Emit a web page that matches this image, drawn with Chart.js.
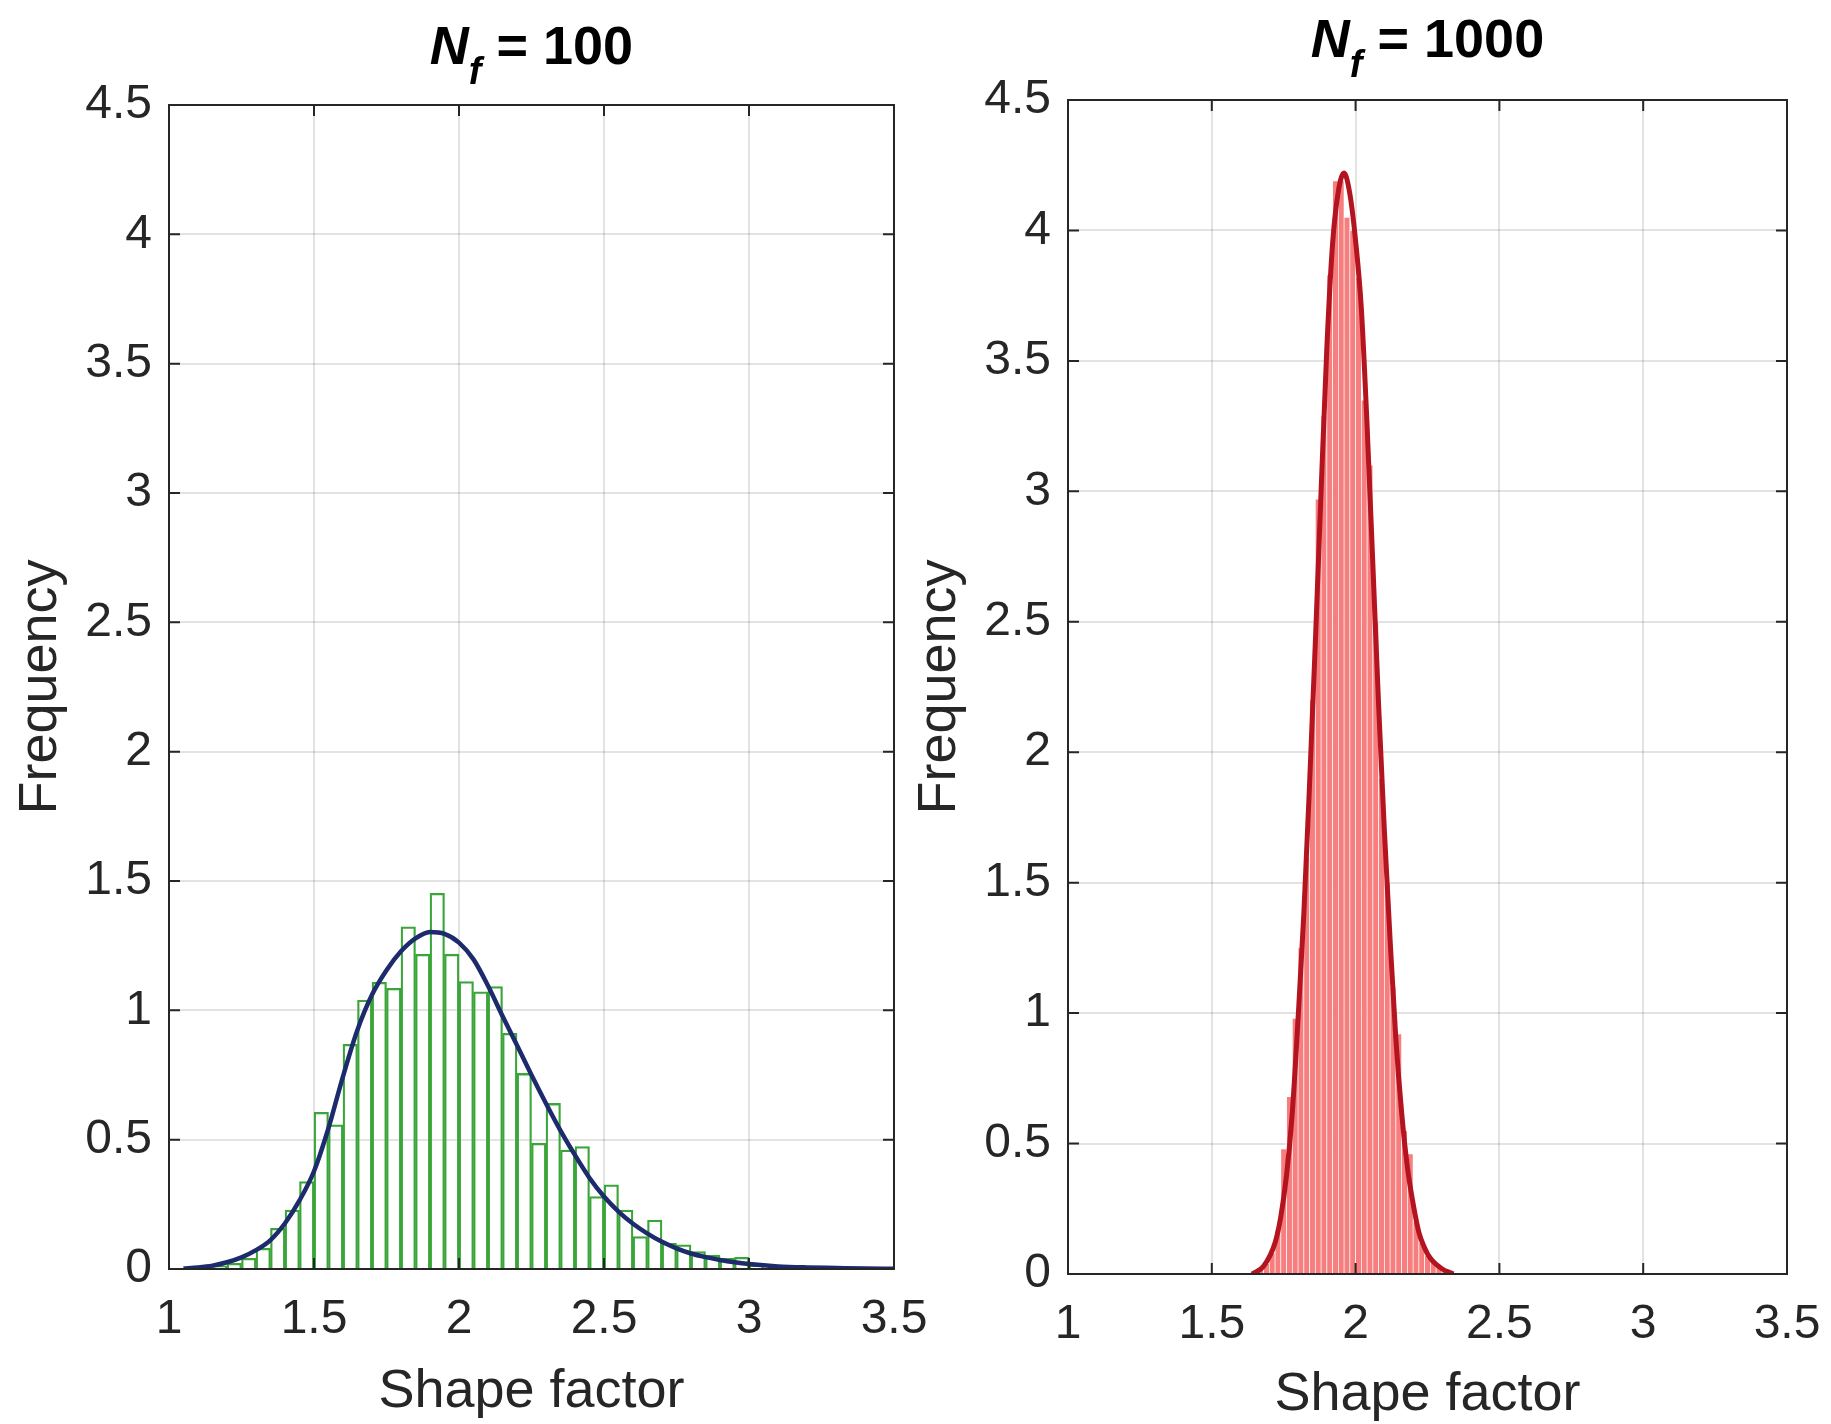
<!DOCTYPE html>
<html>
<head>
<meta charset="utf-8">
<script src="https://cdn.jsdelivr.net/npm/chart.js@4.4.1/dist/chart.umd.min.js"></script>
<style>
  body { margin: 0; background: #fff; }
  #wrap { position: relative; width: 1831px; height: 1424px; }
  canvas { position: absolute; top: 0; }
  #leftChart { left: 0; }
  #rightChart { left: 905px; }
</style>
</head>
<body>
<div id="wrap">
  <canvas id="leftChart" width="940" height="1424"></canvas>
  <canvas id="rightChart" width="926" height="1424"></canvas>
</div>
<script>
const xTicks = [1, 1.5, 2, 2.5, 3, 3.5];
const yTicks = [0, 0.5, 1, 1.5, 2, 2.5, 3, 3.5, 4, 4.5];

// Nf = 100 : histogram (bin width 0.05) and fitted curve
const binsNf100 = [1.125, 1.175, 1.225, 1.275, 1.325, 1.375, 1.425, 1.475, 1.525, 1.575,
  1.625, 1.675, 1.725, 1.775, 1.825, 1.875, 1.925, 1.975, 2.025, 2.075,
  2.125, 2.175, 2.225, 2.275, 2.325, 2.375, 2.425, 2.475, 2.525, 2.575,
  2.625, 2.675, 2.725, 2.775, 2.825, 2.875, 2.925, 2.975, 3.025];
const freqNf100 = [0.005, 0.012, 0.022, 0.041, 0.08, 0.157, 0.228, 0.338, 0.606, 0.557,
  0.869, 1.04, 1.108, 1.085, 1.323, 1.217, 1.452, 1.217, 1.111, 1.072,
  1.092, 0.911, 0.756, 0.486, 0.64, 0.46, 0.473, 0.28, 0.325, 0.228,
  0.125, 0.189, 0.099, 0.093, 0.067, 0.054, 0.041, 0.045, 0.015];
const fitXNf100 = [1.05, 1.1, 1.15, 1.2, 1.25, 1.3, 1.35, 1.4, 1.45, 1.5,
  1.55, 1.6, 1.65, 1.7, 1.75, 1.8, 1.85, 1.9, 1.95, 2.0,
  2.05, 2.1, 2.15, 2.2, 2.25, 2.3, 2.35, 2.4, 2.45, 2.5,
  2.55, 2.6, 2.65, 2.7, 2.75, 2.8, 2.85, 2.9, 2.95, 3.0,
  3.1, 3.2, 3.3, 3.4, 3.5];
const fitYNf100 = [0.002, 0.006, 0.013, 0.026, 0.045, 0.073, 0.112, 0.177, 0.265, 0.378,
  0.545, 0.745, 0.925, 1.06, 1.155, 1.228, 1.278, 1.303, 1.296, 1.262,
  1.197, 1.095, 0.978, 0.865, 0.75, 0.64, 0.535, 0.44, 0.352, 0.28,
  0.222, 0.175, 0.137, 0.105, 0.08, 0.06, 0.046, 0.035, 0.026, 0.019,
  0.01, 0.006, 0.004, 0.002, 0.001];

// Nf = 1000 : histogram (bin width 0.02) and fitted curve
const binsNf1000 = [1.65, 1.67, 1.69, 1.71, 1.73, 1.75, 1.77, 1.79, 1.81, 1.83,
  1.85, 1.87, 1.89, 1.91, 1.93, 1.95, 1.97, 1.99, 2.01, 2.03,
  2.05, 2.07, 2.09, 2.11, 2.13, 2.15, 2.17, 2.19, 2.21, 2.23,
  2.25, 2.27, 2.29, 2.31, 2.33];
const freqNf1000 = [0.01, 0.02, 0.04, 0.08, 0.17, 0.48, 0.68, 0.98, 1.25, 1.6,
  2.2, 2.97, 3.29, 3.83, 4.19, 4.19, 4.05, 4.0, 3.82, 3.35,
  3.1, 2.5, 1.9, 1.5, 1.1, 0.92, 0.55, 0.46, 0.2, 0.12,
  0.07, 0.05, 0.03, 0.02, 0.01];
const fitXNf1000 = [1.64, 1.68, 1.72, 1.74, 1.76, 1.78, 1.8, 1.82, 1.84, 1.86,
  1.88, 1.9, 1.92, 1.94, 1.96, 1.98, 2.0, 2.02, 2.04, 2.06,
  2.08, 2.1, 2.12, 2.14, 2.16, 2.18, 2.2, 2.22, 2.24, 2.26,
  2.3, 2.34];
const fitYNf1000 = [0.0, 0.03, 0.12, 0.22, 0.38, 0.62, 0.98, 1.38, 1.88, 2.42,
  3.0, 3.55, 3.95, 4.15, 4.22, 4.14, 3.96, 3.7, 3.25, 2.72,
  2.18, 1.7, 1.28, 0.9, 0.62, 0.41, 0.27, 0.16, 0.1, 0.06,
  0.02, 0.0];

const FONT = "Liberation Sans, Arial, Helvetica, sans-serif";
const TEXT = "#262626";
const GRID = "rgba(0,0,0,0.11)";

// axis box, inward tick marks and the N_f title
const framePlugin = {
  id: "frame",
  afterDraw(chart) {
    const ctx = chart.ctx;
    const a = chart.chartArea;
    const sx = chart.scales.x;
    const sy = chart.scales.y;
    const tickLen = 11;

    ctx.save();
    ctx.strokeStyle = TEXT;
    ctx.lineWidth = 2;
    ctx.strokeRect(a.left, a.top, a.right - a.left, a.bottom - a.top);

    ctx.beginPath();
    sx.ticks.forEach(function (t) {
      var px = sx.getPixelForValue(t.value);
      ctx.moveTo(px, a.bottom);
      ctx.lineTo(px, a.bottom - tickLen);
      ctx.moveTo(px, a.top);
      ctx.lineTo(px, a.top + tickLen);
    });
    sy.ticks.forEach(function (t) {
      var py = sy.getPixelForValue(t.value);
      ctx.moveTo(a.left, py);
      ctx.lineTo(a.left + tickLen, py);
      ctx.moveTo(a.right, py);
      ctx.lineTo(a.right - tickLen, py);
    });
    ctx.stroke();

    var opts = chart.options.plugins.frame;
    var parts = [
      { text: "N", font: "italic bold 54px " + FONT, dy: 0 },
      { text: "f", font: "italic bold 38px " + FONT, dy: 20 },
      { text: " = " + opts.nf, font: "bold 54px " + FONT, dy: 0 },
    ];
    var total = 0;
    parts.forEach(function (p) {
      ctx.font = p.font;
      p.w = ctx.measureText(p.text).width;
      total += p.w;
    });
    var x = (a.left + a.right) / 2 - total / 2;
    var baseline = a.top - opts.titleGap;
    ctx.fillStyle = "#000";
    ctx.textBaseline = "alphabetic";
    ctx.textAlign = "left";
    parts.forEach(function (p) {
      ctx.font = p.font;
      ctx.fillText(p.text, x, baseline + p.dy);
      x += p.w;
    });
    ctx.restore();
  },
};

function CreateHistogram(canvasId, bins, freq, lines, barStyle, box) {
  var datasets = [
    Object.assign(
      {
        type: "bar",
        data: bins.map((b, i) => ({ x: b, y: freq[i] })),
        barPercentage: 1,
        categoryPercentage: 1,
        order: 5,
      },
      barStyle
    ),
  ];
  lines.forEach(function (l, i) {
    datasets.push({
      type: "line",
      data: l.x.map((v, j) => ({ x: v, y: l.y[j] })),
      borderColor: l.color,
      borderWidth: l.width,
      pointRadius: 0,
      cubicInterpolationMode: "monotone",
      fill: false,
      order: -i,
    });
  });

  new Chart(document.getElementById(canvasId), {
    type: "bar",
    data: { datasets: datasets },
    plugins: [framePlugin],
    options: {
      responsive: false,
      animation: false,
      devicePixelRatio: 1,
      layout: { padding: box.padding },
      plugins: {
        legend: { display: false },
        tooltip: { enabled: false },
        frame: { nf: box.nf, titleGap: box.titleGap },
      },
      scales: {
        x: {
          type: "linear",
          min: 1,
          max: 3.5,
          offset: false,
          afterBuildTicks: (s) => { s.ticks = xTicks.map((v) => ({ value: v })); },
          afterFit: (s) => { s.height = box.xHeight; s.paddingLeft = 0; s.paddingRight = 0; },
          grid: { color: GRID, lineWidth: 2, drawTicks: false, offset: false },
          border: { display: false },
          ticks: {
            color: TEXT,
            font: { family: FONT, size: 48, lineHeight: 1 },
            padding: 27,
            maxRotation: 0,
            autoSkip: false,
            callback: (v) => String(v),
          },
          title: {
            display: true,
            text: "Shape factor",
            color: TEXT,
            font: { family: FONT, size: 54, lineHeight: 1 },
            padding: { top: 0, bottom: box.xTitlePad },
          },
        },
        y: {
          min: 0,
          max: 4.5,
          afterBuildTicks: (s) => { s.ticks = yTicks.map((v) => ({ value: v })); },
          afterFit: (s) => { s.width = box.yWidth; s.paddingTop = 0; s.paddingBottom = 0; },
          grid: { color: GRID, lineWidth: 2, drawTicks: false },
          border: { display: false },
          ticks: {
            color: TEXT,
            font: { family: FONT, size: 48, lineHeight: 1 },
            padding: 17,
            autoSkip: false,
            callback: (v) => String(v),
          },
          title: {
            display: true,
            text: "Frequency",
            color: TEXT,
            font: { family: FONT, size: 54, lineHeight: 1 },
            padding: { top: box.yTitlePad, bottom: 0 },
          },
        },
      },
    },
  });
}

CreateHistogram(
  "leftChart",
  binsNf100,
  freqNf100,
  [{ x: fitXNf100, y: fitYNf100, color: "#1d2a6b", width: 4.5 }],
  { backgroundColor: "rgba(255,255,255,0)", borderColor: "#3aa63a", borderWidth: 1.6 },
  { nf: "100", padding: { left: 0, right: 46, top: 105, bottom: 0 }, yWidth: 169, xHeight: 155, yTitlePad: 14, xTitlePad: 5, titleGap: 41 }
);

CreateHistogram(
  "rightChart",
  binsNf1000,
  freqNf1000,
  [
    { x: fitXNf1000, y: fitYNf1000, color: "#3a0d0d", width: 1.5 },
    { x: fitXNf1000, y: fitYNf1000, color: "#b3141f", width: 5 },
  ],
  { backgroundColor: "#f77e7e", borderColor: "rgba(255,255,255,0.9)", borderWidth: 0.7 },
  { nf: "1000", padding: { left: 0, right: 44, top: 100, bottom: 0 }, yWidth: 163, xHeight: 150, yTitlePad: 8, xTitlePad: 2, titleGap: 43 }
);
</script>
</body>
</html>
